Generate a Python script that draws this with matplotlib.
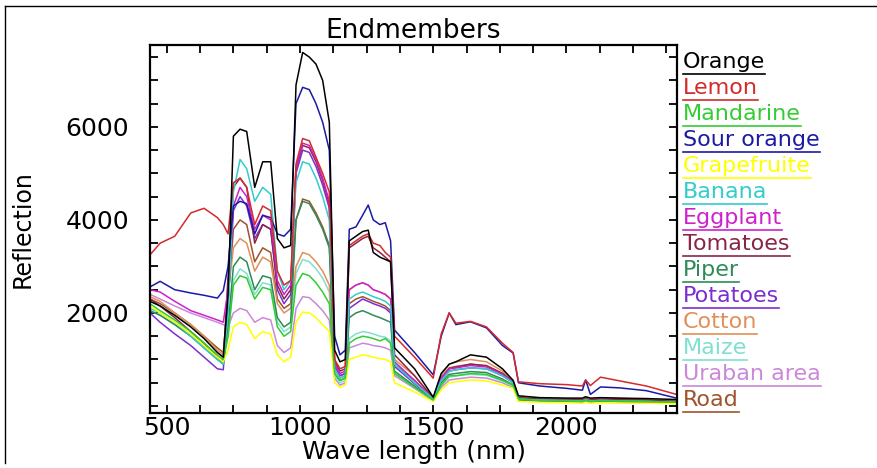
import matplotlib
matplotlib.use("Agg")
import matplotlib.pyplot as plt
from matplotlib.lines import Line2D
from matplotlib.ticker import MultipleLocator

plt.rcParams['font.family'] = ['DejaVu Sans']

wavelength = [437, 475, 530, 590, 640, 690, 712, 730, 750, 775, 800, 830, 860, 890, 915, 940, 965,
              985, 1010, 1035, 1060, 1085, 1110, 1130, 1150, 1170, 1185, 1210, 1235, 1256, 1275, 1300,
              1320, 1340, 1355, 1430, 1500, 1530, 1560, 1585, 1640, 1700, 1760, 1800, 1820, 1900, 2000,
              2060, 2072, 2090, 2128, 2200, 2300, 2413]

orange = [2250, 2150, 1950, 1700, 1450, 1150, 1050, 2400, 5800, 5950, 5900, 4700, 5250, 5250, 3600, 3400, 3450,
          6900, 7600, 7500, 7350, 7000, 6100, 1200, 950, 1000, 3550, 3650, 3750, 3780, 3300, 3200,
          3150, 3100, 1250, 800, 190, 700, 900, 950, 1100, 1050, 800, 550, 220, 180, 170,
          170, 200, 170, 180, 170, 160, 140]
lemon = [3250, 3500, 3650, 4150, 4250, 4050, 3900, 3700, 4800, 4900, 4700, 3900, 4300, 4200, 2900, 2600, 2700,
         5200, 5750, 5700, 5350, 5000, 4600, 1000, 800, 850, 3450, 3550, 3650, 3700, 3500, 3450,
         3300, 3200, 1500, 1050, 600, 1550, 2000, 1780, 1820, 1700, 1350, 1150, 520, 480, 460,
         430, 560, 440, 620, 540, 430, 250]
mandarine = [2200, 2050, 1850, 1600, 1350, 1100, 1000, 1500, 2600, 2800, 2750, 2300, 2550, 2500, 1700, 1500, 1600,
             2600, 2850, 2800, 2650, 2450, 2200, 700, 550, 600, 1350, 1450, 1500, 1480, 1450, 1400,
             1450, 1350, 700, 400, 130, 450, 650, 650, 700, 680, 550, 450, 150, 120, 110,
             100, 130, 100, 120, 110, 100, 80]
sour_orange = [2560, 2680, 2500, 2430, 2380, 2320, 2480, 3000, 4300, 4400, 4350, 3700, 4100, 4050, 3700, 3650, 3800,
               6500, 6850, 6800, 6500, 6100, 5500, 1500, 1100, 1200, 3800, 3850, 4100, 4320, 4000, 3900,
               3940, 3550, 1630, 1150, 670, 1500, 2000, 1750, 1810, 1680, 1300, 1140, 500, 430, 380,
               340, 560, 250, 410, 390, 330, 170]
grapefruite = [2150, 2000, 1800, 1550, 1300, 1050, 950, 1200, 1700, 1800, 1750, 1450, 1600, 1550, 1100, 950, 1050,
               1800, 2020, 2000, 1900, 1750, 1600, 500, 400, 450, 1000, 1050, 1100, 1080, 1050, 1020,
               1000, 950, 500, 300, 100, 350, 500, 520, 560, 540, 450, 380, 100, 80, 70,
               60, 80, 60, 70, 60, 60, 50]
banana = [2100, 2000, 1800, 1500, 1250, 1000, 900, 2000, 4600, 5300, 5100, 4400, 4700, 4550, 2900, 2500, 2700,
          4800, 5250, 5200, 4900, 4500, 4000, 800, 600, 650, 2300, 2400, 2450, 2400, 2350, 2300,
          2250, 2150, 900, 500, 150, 550, 750, 780, 820, 800, 650, 500, 150, 130, 120,
          110, 140, 110, 120, 110, 100, 80]
eggplant = [2500, 2450, 2250, 2050, 1950, 1850, 1800, 2500, 4300, 4700, 4500, 3800, 4100, 4000, 2700, 2400, 2600,
            5100, 5650, 5600, 5300, 4900, 4400, 900, 700, 750, 2500, 2600, 2650, 2600, 2500, 2450,
            2400, 2300, 950, 550, 150, 600, 800, 820, 870, 840, 680, 520, 150, 120, 110,
            110, 140, 110, 130, 110, 100, 80]
tomatoes = [2300, 2150, 1900, 1600, 1350, 1050, 950, 2800, 4700, 4900, 4700, 3500, 3900, 3800, 2600, 2300, 2500,
            5100, 5600, 5550, 5250, 4850, 4350, 950, 750, 800, 3400, 3500, 3600, 3650, 3400, 3300,
            3200, 3100, 1100, 650, 170, 600, 800, 830, 900, 860, 700, 520, 180, 150, 140,
            130, 160, 130, 150, 140, 130, 100]
piper = [2050, 1950, 1750, 1500, 1250, 1000, 900, 1700, 3000, 3200, 3100, 2500, 2800, 2750, 1900, 1700, 1800,
         4000, 4400, 4350, 4100, 3800, 3400, 700, 550, 600, 1900, 2000, 2050, 2000, 1950, 1900,
         1850, 1800, 750, 430, 130, 500, 680, 700, 740, 720, 580, 450, 130, 110, 100,
         100, 120, 100, 110, 100, 90, 70]
potatoes = [2000, 1800, 1550, 1300, 1050, 800, 780, 2200, 4200, 4500, 4300, 3600, 3900, 3800, 2500, 2200, 2400,
            5000, 5500, 5450, 5150, 4750, 4250, 850, 650, 700, 2100, 2200, 2300, 2250, 2200, 2150,
            2100, 2000, 850, 480, 140, 550, 750, 780, 820, 800, 650, 500, 140, 120, 110,
            100, 130, 100, 120, 100, 90, 70]
cotton = [2350, 2250, 2000, 1750, 1500, 1200, 1100, 2400, 3400, 3600, 3500, 2900, 3200, 3100, 2200, 2000, 2100,
          3000, 3300, 3250, 3100, 2900, 2600, 800, 600, 650, 2500, 2600, 2650, 2600, 2500, 2450,
          2400, 2300, 1000, 650, 160, 650, 900, 950, 1000, 950, 750, 550, 200, 170, 160,
          150, 180, 150, 170, 160, 150, 110]
maize = [2050, 1950, 1750, 1500, 1300, 1050, 950, 1500, 2700, 2950, 2850, 2400, 2650, 2600, 1800, 1600, 1700,
         2850, 3150, 3100, 2950, 2750, 2450, 650, 500, 550, 1450, 1550, 1600, 1580, 1550, 1500,
         1480, 1400, 700, 400, 120, 450, 620, 650, 680, 660, 540, 430, 130, 110, 100,
         100, 120, 100, 110, 100, 90, 70]
uraban_area = [2400, 2300, 2150, 2000, 1900, 1800, 1750, 1700, 2000, 2100, 2050, 1800, 1900, 1850, 1300, 1150, 1250,
               2100, 2350, 2330, 2200, 2050, 1850, 600, 450, 500, 1250, 1300, 1350, 1330, 1300, 1280,
               1250, 1200, 650, 380, 110, 400, 560, 580, 620, 600, 500, 400, 120, 100, 90,
               80, 110, 80, 100, 90, 80, 60]
road = [2300, 2200, 2000, 1750, 1500, 1250, 1150, 2300, 3800, 4000, 3900, 3100, 3400, 3300, 2300, 2100, 2200,
        4000, 4450, 4400, 4150, 3850, 3450, 850, 650, 700, 2200, 2300, 2350, 2300, 2250, 2200,
        2150, 2050, 900, 550, 150, 600, 820, 850, 900, 870, 700, 520, 160, 140, 130,
        120, 150, 120, 140, 130, 120, 90]

names = ["Orange", "Lemon", "Mandarine", "Sour orange", "Grapefruite", "Banana", "Eggplant",
         "Tomatoes", "Piper", "Potatoes", "Cotton", "Maize", "Uraban area", "Road"]
series = [orange, lemon, mandarine, sour_orange, grapefruite, banana, eggplant,
          tomatoes, piper, potatoes, cotton, maize, uraban_area, road]
colors = ["#000000", "#d42a2a", "#33cc33", "#1a1aa6", "#ffff00", "#33cccc", "#cc22cc",
          "#8b2548", "#2e8b57", "#7b2fd0", "#e0905a", "#7fe0d0", "#cc88d8", "#a0522d"]

W, H = 877, 468
fig = plt.figure(figsize=(W / 100, H / 100), dpi=100)
ax = fig.add_axes([150 / W, 1 - 413 / H, (677 - 150) / W, (413 - 45) / H])

for name, vals, col in reversed(list(zip(names, series, colors))):
    ax.plot(wavelength, vals, color=col, lw=1.1)

ax.set_xlim(437, 2415)
ax.set_ylim(-150, 7760)
ax.xaxis.set_major_locator(MultipleLocator(500))
ax.xaxis.set_minor_locator(MultipleLocator(125))
ax.set_yticks([2000, 4000, 6000])
ax.yaxis.set_minor_locator(MultipleLocator(500))
ax.tick_params(which='both', direction='in', top=True, right=True, length=6, width=1.3, color='black')
ax.tick_params(axis='x', which='major', labelsize=18, pad=2)
ax.tick_params(axis='y', which='major', labelsize=18, pad=15)
for s in ax.spines.values():
    s.set_linewidth(1.6)

ax.set_title("Endmembers", fontsize=19, pad=5)
ax.set_xlabel("Wave length (nm)", fontsize=18, labelpad=0)
ax.set_ylabel("Reflection", fontsize=17, labelpad=22)

texts = []
for i, (name, col) in enumerate(zip(names, colors)):
    y = 62 + i * 26.0
    t = fig.text(683 / W, 1 - y / H, name, color=col, fontsize=16, ha='left', va='center')
    texts.append((t, y, col))
fig.canvas.draw()
r = fig.canvas.get_renderer()
for t, y, col in texts:
    bb = t.get_window_extent(renderer=r)
    yl = 1 - (y + 12) / H
    fig.add_artist(Line2D([683 / W, bb.x1 / W], [yl, yl], color=col, lw=1.2))

fig.add_artist(Line2D([5 / W, 5 / W], [1 - 6 / H, 1 - 463 / H], color='black', lw=1.0))
fig.add_artist(Line2D([5 / W, 1.0], [1 - 6 / H, 1 - 6 / H], color='black', lw=1.0))

fig.savefig("out.png", dpi=100)
